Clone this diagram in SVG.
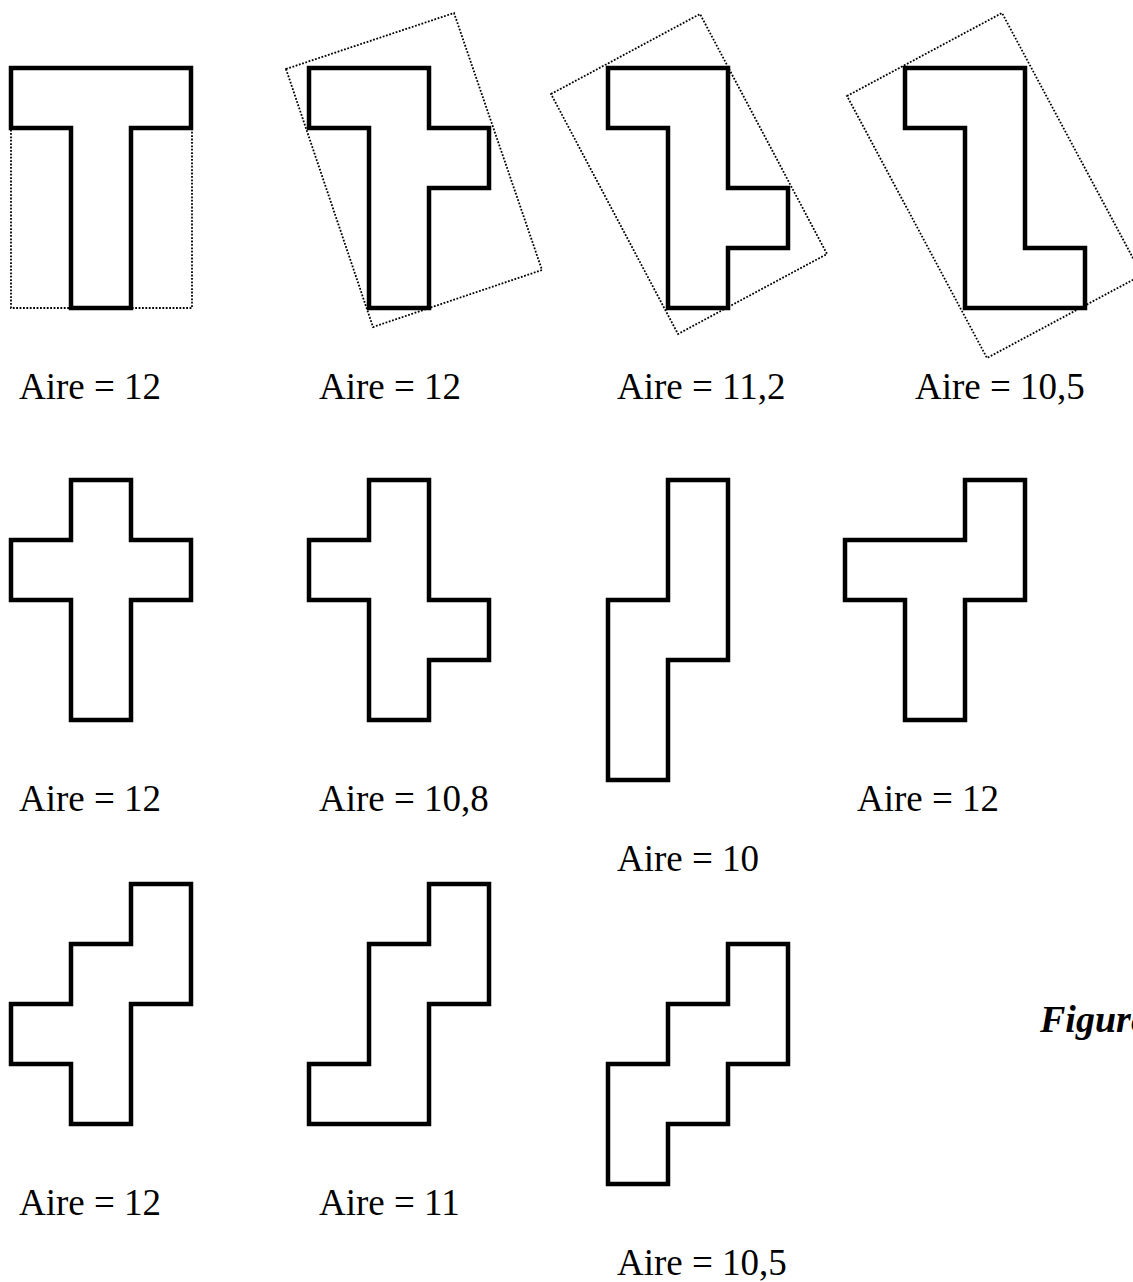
<svg xmlns="http://www.w3.org/2000/svg" width="1133" height="1282" viewBox="0 0 1133 1282">
<style>
.shape{fill:none;stroke:#000;stroke-width:4.5;stroke-linejoin:miter;stroke-linecap:square}
.box{fill:none;stroke:#000;stroke-width:1.8;stroke-dasharray:1.8 1.6}
.lbl{font-family:"Liberation Serif","Times New Roman",serif;font-size:37px;fill:#000}
.fig{font-family:"Liberation Serif","Times New Roman",serif;font-size:38px;font-weight:bold;font-style:italic;fill:#000}
</style>
<rect width="1133" height="1282" fill="#fff"/>
<g id="fig1">
<polygon class="box" points="11,68 192,68 192,308 11,308"/>
<polygon class="shape" points="11,68 191,68 191,128 131,128 131,308 71,308 71,128 11,128"/>
<text class="lbl" x="19" y="399">Aire = 12</text>
</g>
<g id="fig2">
<polygon class="box" points="286,69 454,13 542,270 373,327"/>
<polygon class="shape" points="309,68 429,68 429,128 489,128 489,188 429,188 429,308 369,308 369,128 309,128"/>
<text class="lbl" x="319" y="399">Aire = 12</text>
</g>
<g id="fig3">
<polygon class="box" points="551,94 700,14 827,254 678,334"/>
<polygon class="shape" points="608,68 728,68 728,188 788,188 788,248 728,248 728,308 668,308 668,128 608,128"/>
<text class="lbl" x="617" y="399">Aire = 11,2</text>
</g>
<g id="fig4">
<polygon class="box" points="847,96 1002,13 1142,275 987,358"/>
<polygon class="shape" points="905,68 1025,68 1025,248 1085,248 1085,308 965,308 965,128 905,128"/>
<text class="lbl" x="915" y="399">Aire = 10,5</text>
</g>
<g id="fig5">
<polygon class="shape" points="71,480 131,480 131,540 191,540 191,600 131,600 131,720 71,720 71,600 11,600 11,540 71,540"/>
<text class="lbl" x="19" y="811">Aire = 12</text>
</g>
<g id="fig6">
<polygon class="shape" points="369,480 429,480 429,600 489,600 489,660 429,660 429,720 369,720 369,600 309,600 309,540 369,540"/>
<text class="lbl" x="319" y="811">Aire = 10,8</text>
</g>
<g id="fig7">
<polygon class="shape" points="668,480 728,480 728,660 668,660 668,780 608,780 608,600 668,600"/>
<text class="lbl" x="617" y="871">Aire = 10</text>
</g>
<g id="fig8">
<polygon class="shape" points="965,480 1025,480 1025,600 965,600 965,720 905,720 905,600 845,600 845,540 965,540"/>
<text class="lbl" x="857" y="811">Aire = 12</text>
</g>
<g id="fig9">
<polygon class="shape" points="131,884 191,884 191,1004 131,1004 131,1124 71,1124 71,1064 11,1064 11,1004 71,1004 71,944 131,944"/>
<text class="lbl" x="19" y="1215">Aire = 12</text>
</g>
<g id="fig10">
<polygon class="shape" points="429,884 489,884 489,1004 429,1004 429,1124 309,1124 309,1064 369,1064 369,944 429,944"/>
<text class="lbl" x="319" y="1215">Aire = 11</text>
</g>
<g id="fig11">
<polygon class="shape" points="728,944 788,944 788,1064 728,1064 728,1124 668,1124 668,1184 608,1184 608,1064 668,1064 668,1004 728,1004"/>
<text class="lbl" x="617" y="1275">Aire = 10,5</text>
</g>
<g id="caption">
<text class="fig" x="1040" y="1032">Figure</text>
</g>
</svg>
